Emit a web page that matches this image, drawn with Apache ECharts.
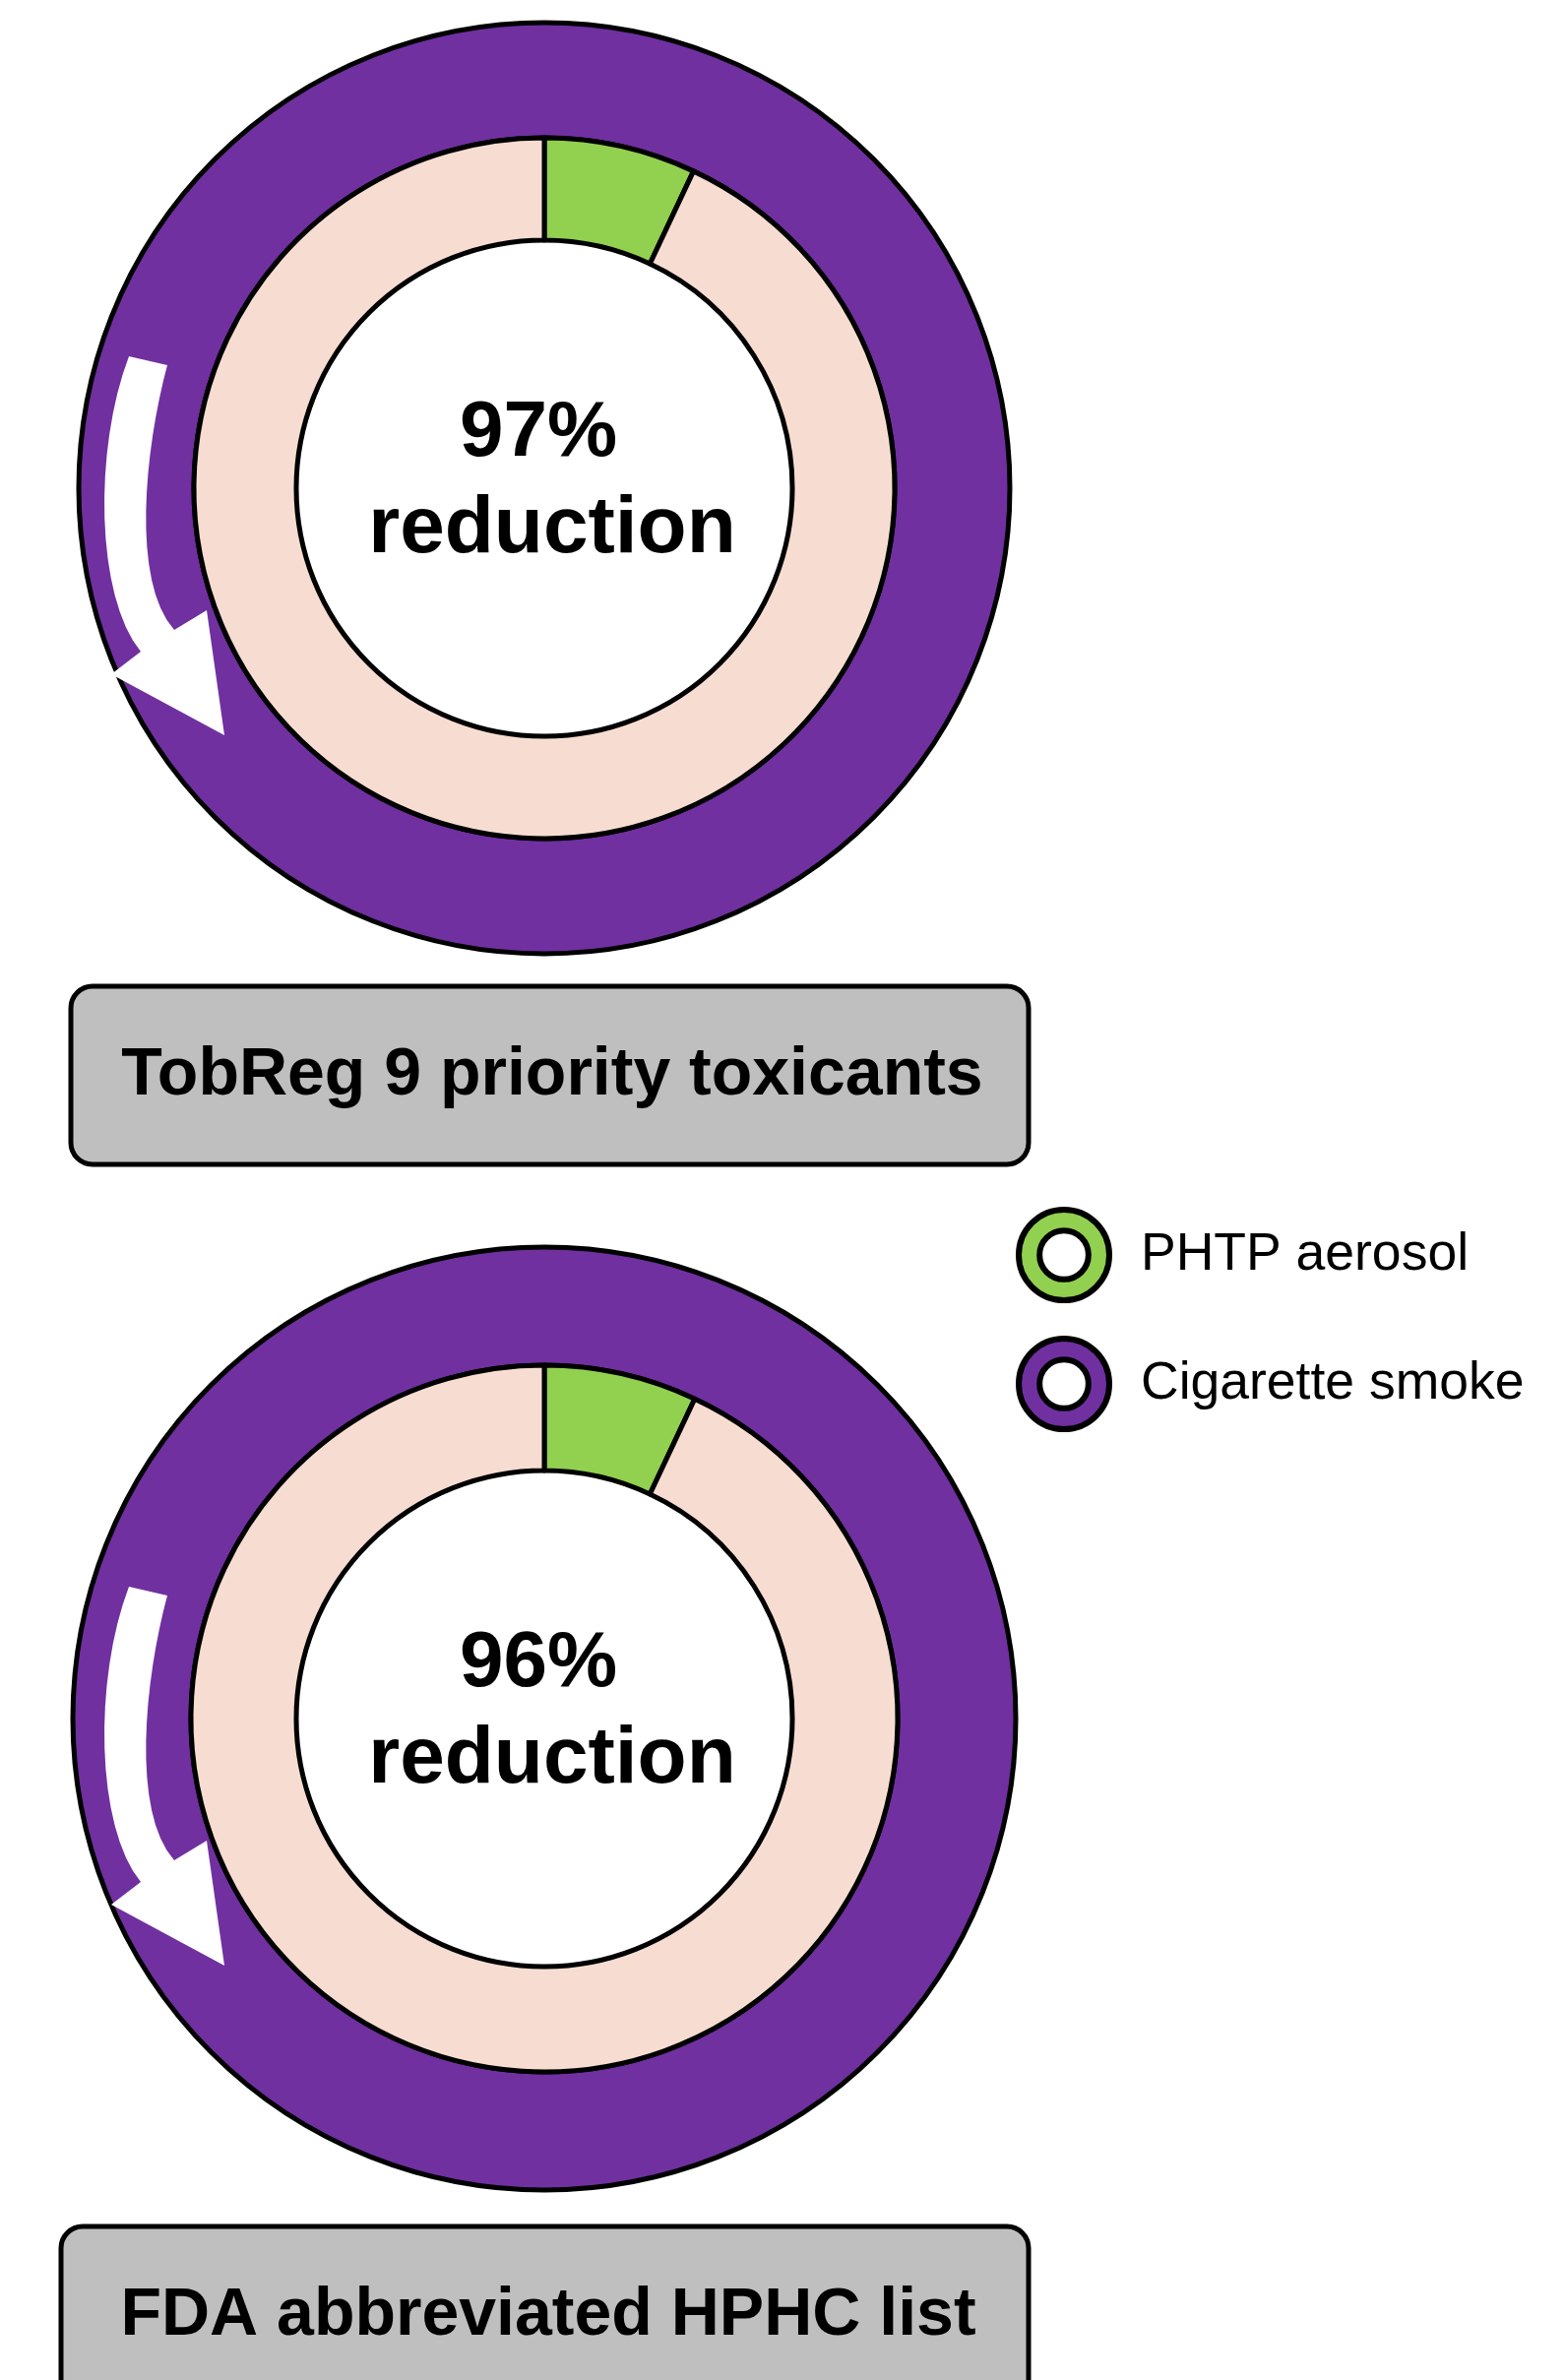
<!DOCTYPE html>
<html>
<head>
<meta charset="utf-8">
<style>
  html, body { margin: 0; padding: 0; background: #ffffff; }
  #chart { width: 1590px; height: 2418px; }
</style>
<script src="https://cdn.jsdelivr.net/npm/echarts@6/dist/echarts.min.js"></script>
</head>
<body>
<div id="chart"></div>
<script>
// ---- data ----
const panelTitles = ['TobReg 9 priority toxicants', 'FDA abbreviated HPHC list'];
const reductionLabels = ['97%', '96%'];
const reductionWord = 'reduction';
const cigaretteValues = [100, 100];       // outer ring: cigarette smoke (reference = 100)
const phtpSliceValues = [7, 7];           // green slice as drawn in the picture
const remainderValues = [93, 93];         // pale remainder of the inner ring
const legendNames = ['PHTP aerosol', 'Cigarette smoke'];

// ---- layout / style ----
const COLORS = { purple: '#7030A0', green: '#92D050', pink: '#F7DDD1', gray: '#BFBFBF' };
const panels = [
  { cx: 553, cy: 496, rOuter: 473, rMid: 356, rInner: 252, box: [72, 1002, 973, 181], boxText: [561, 1093] },
  { cx: 553, cy: 1746, rOuter: 479, rMid: 359, rInner: 252, box: [62, 2262, 983, 200], boxText: [557, 2353] }
];
const FONT = '"Liberation Sans", Arial, sans-serif';

// decorative curved arrow, outline relative to the pie centre
function bez(p0, p1, p2, p3, n) {
  const out = [];
  for (let k = 0; k <= n; k++) {
    const t = k / n, u = 1 - t;
    out.push([
      u*u*u*p0[0] + 3*u*u*t*p1[0] + 3*u*t*t*p2[0] + t*t*t*p3[0],
      u*u*u*p0[1] + 3*u*u*t*p1[1] + 3*u*t*t*p2[1] + t*t*t*p3[1]
    ]);
  }
  return out;
}
const arrowRel = [].concat(
  [[-422, -134]],
  bez([-383, -125], [-406, -40], [-420, 95], [-376, 144], 16),
  [[-343, 124], [-325, 251], [-440, 189]],
  bez([-410, 166], [-456, 110], [-458, -40], [-422, -134], 16)
);

const series = [];
const graphics = [];
panels.forEach((p, i) => {
  series.push({
    type: 'pie', silent: true, animation: false,
    center: [p.cx, p.cy], radius: [p.rMid, p.rOuter],
    label: { show: false }, labelLine: { show: false },
    itemStyle: { borderColor: '#000', borderWidth: 5 },
    data: [{ name: legendNames[1], value: cigaretteValues[i], itemStyle: { color: COLORS.purple } }]
  });
  series.push({
    type: 'pie', silent: true, animation: false,
    center: [p.cx, p.cy], radius: [p.rInner, p.rMid],
    startAngle: 90, clockwise: true,
    label: { show: false }, labelLine: { show: false },
    itemStyle: { borderColor: '#000', borderWidth: 5 },
    data: [
      { name: legendNames[0], value: phtpSliceValues[i], itemStyle: { color: COLORS.green } },
      { name: 'Remainder', value: remainderValues[i], itemStyle: { color: COLORS.pink } }
    ]
  });
  graphics.push({
    type: 'polygon', z: 100,
    shape: { points: arrowRel.map(([x, y]) => [p.cx + x, p.cy + y]) },
    style: { fill: '#ffffff' }
  });
  graphics.push({
    type: 'text', z: 100, x: p.cx - 6, y: p.cy - 55,
    style: { text: reductionLabels[i], fill: '#000', font: 'bold 80px ' + FONT, textAlign: 'center', textVerticalAlign: 'middle' }
  });
  graphics.push({
    type: 'text', z: 100, x: p.cx + 8, y: p.cy + 42,
    style: { text: reductionWord, fill: '#000', font: 'bold 82px ' + FONT, textAlign: 'center', textVerticalAlign: 'middle' }
  });
  graphics.push({
    type: 'rect', z: 100,
    shape: { x: p.box[0], y: p.box[1], width: p.box[2], height: p.box[3], r: 22 },
    style: { fill: COLORS.gray, stroke: '#000', lineWidth: 5 }
  });
  graphics.push({
    type: 'text', z: 101, x: p.boxText[0], y: p.boxText[1],
    style: { text: panelTitles[i], fill: '#000', font: 'bold 68px ' + FONT, textAlign: 'center', textVerticalAlign: 'middle' }
  });
});

const ringIcon = 'path://M0,50 A50,50 0 1,1 100,50 A50,50 0 1,1 0,50 Z M23,50 A27,27 0 1,0 77,50 A27,27 0 1,0 23,50 Z';

const chart = echarts.init(document.getElementById('chart'), null, { renderer: 'canvas' });
chart.setOption({
  backgroundColor: '#ffffff',
  animation: false,
  legend: {
    orient: 'vertical', left: 1032, top: 1226, padding: 0,
    itemWidth: 92, itemHeight: 92, itemGap: 33,
    icon: ringIcon, selectedMode: false,
    itemStyle: { borderColor: '#000', borderWidth: 6 },
    textStyle: { fontSize: 53.5, color: '#000', fontFamily: FONT, padding: [0, 0, 0, 27] },
    data: legendNames
  },
  series: series,
  graphic: { elements: graphics }
});
</script>
</body>
</html>
